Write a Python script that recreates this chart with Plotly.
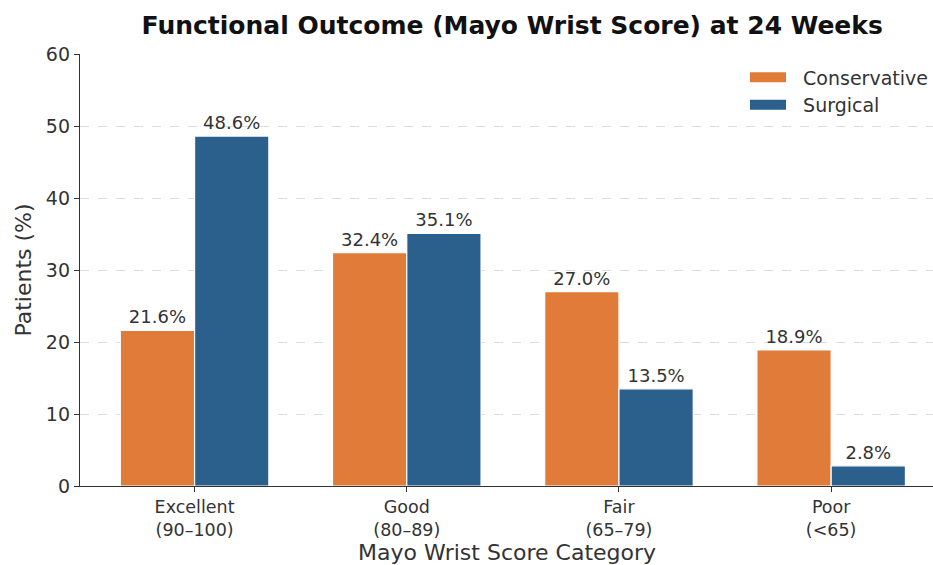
import plotly.graph_objects as go

categories = ["Excellent<br>(90–100)", "Good<br>(80–89)", "Fair<br>(65–79)", "Poor<br>(<65)"]
conservative = [21.6, 32.4, 27.0, 18.9]
surgical = [48.6, 35.1, 13.5, 2.8]
y_ticks = [0, 10, 20, 30, 40, 50, 60]

ORANGE = "#E07B39"
BLUE = "#2B5F8C"
FONT = "DejaVu Sans"
TEXT = "#333333"

fig = go.Figure()
series = [("Conservative", conservative, ORANGE), ("Surgical", surgical, BLUE)]
for name, vals, color in series:
    fig.add_trace(go.Bar(
        name=name, x=categories, y=vals, showlegend=False,
        marker=dict(color=color, line=dict(color="white", width=1.2)),
        texttemplate="%{y:.1f}%", textposition="outside",
        textfont=dict(family=FONT, size=18, color=TEXT),
        cliponaxis=False,
    ))

# wide rectangular legend patches
for name, _, color in series:
    fig.add_trace(go.Scatter(
        name="\u00a0\u00a0" + name, x=[None], y=[None], mode="lines",
        line=dict(color=color, width=14),
    ))

fig.update_layout(
    width=933, height=565,
    margin=dict(l=80, r=0, t=54, b=79),
    paper_bgcolor="white", plot_bgcolor="white",
    barmode="group", bargap=0.3, bargroupgap=0,
    uniformtext=dict(minsize=18, mode="show"),
    font=dict(family=FONT, color=TEXT),
    title=dict(
        text="<b>Functional Outcome (Mayo Wrist Score) at 24 Weeks</b>",
        x=0.549, xanchor="center", y=0.955, yanchor="middle",
        font=dict(family=FONT, size=25, color="#111111"),
    ),
    legend=dict(
        x=1.0, xanchor="right", y=0.99, yanchor="top",
        font=dict(family=FONT, size=19, color=TEXT),
        bgcolor="rgba(255,255,255,0)", itemwidth=36,
        tracegroupgap=2,
    ),
    xaxis=dict(
        range=[-0.54, 3.48],
        showline=True, linecolor="#333333", linewidth=1.3,
        ticks="outside", ticklen=5, tickcolor="#333333",
        tickfont=dict(family=FONT, size=17.5, color=TEXT),
        showgrid=False,
    ),
    yaxis=dict(
        range=[0, 60], tickvals=y_ticks,
        showline=True, linecolor="#333333", linewidth=1.3,
        ticks="outside", ticklen=5, tickcolor="#333333",
        tickfont=dict(family=FONT, size=19, color=TEXT),
        title=dict(text="Patients (%)", standoff=8,
                   font=dict(family=FONT, size=22, color=TEXT)),
        showgrid=True, gridcolor="#dddddd", griddash="dash", gridwidth=1,
        zeroline=False,
    ),
    annotations=[dict(
        text="Mayo Wrist Score Category", showarrow=False,
        xref="paper", yref="paper", x=0.5, y=-0.153,
        xanchor="center", yanchor="middle",
        font=dict(family=FONT, size=22, color=TEXT),
    )],
)

fig.write_html("out.html")
